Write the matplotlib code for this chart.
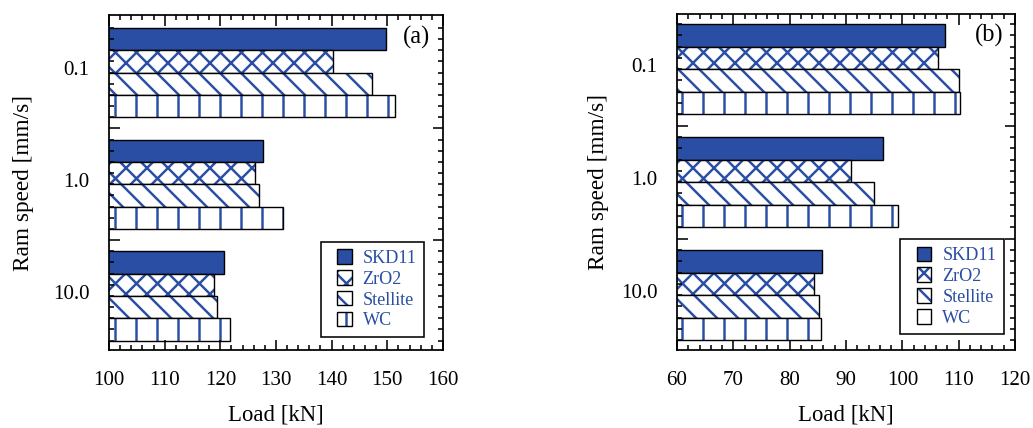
import numpy as np
import matplotlib.pyplot as plt
from matplotlib.patches import Patch, Rectangle
from matplotlib.legend_handler import HandlerPatch
from matplotlib.ticker import MultipleLocator, FixedLocator, NullFormatter

plt.rcParams['font.family'] = ['Liberation Serif', 'DejaVu Serif']
plt.rcParams['hatch.linewidth'] = 1.4

speeds = ["0.1", "1.0", "10.0"]
materials = ["SKD11", "ZrO2", "Stellite", "WC"]

# panel (a)
a_skd11 = [149.7, 127.7, 120.7]
a_zro2 = [140.3, 126.3, 118.9]
a_stellite = [147.3, 126.9, 119.4]
a_wc = [151.3, 131.3, 121.7]

# panel (b)
b_skd11 = [107.5, 96.6, 85.7]
b_zro2 = [106.4, 90.9, 84.4]
b_stellite = [110.0, 95.0, 85.2]
b_wc = [110.3, 99.2, 85.6]

blue = '#2a4ea3'
hatches = [None, 'xx', '\\\\', '|']

DPI = 126
fig = plt.figure(figsize=(1033 / DPI, 428 / DPI), dpi=DPI)


def square_patch(legend, orig_handle, xdescent, ydescent, width, height, fontsize):
    # square box pushed to the right end of the handle area
    return Rectangle((-xdescent + width - height, -ydescent), height, height)


def panel(rect, series, xlim, ylim_top, offset, tag, tagpos, ylab_x, legpos):
    ax = fig.add_axes(rect)
    for i, vals in enumerate(series):
        y = offset + np.arange(len(speeds)) * 5 + i + 0.5
        if i == 0:
            ax.barh(y, vals, height=1.0, color=blue, edgecolor='black', linewidth=0.8)
        else:
            ax.barh(y, vals, height=1.0, color='white', edgecolor=blue,
                    hatch=hatches[i], linewidth=0)
            ax.barh(y, vals, height=1.0, fill=False, edgecolor='black', linewidth=0.8)
    ax.set_xlim(*xlim)
    ax.set_ylim(ylim_top, 0)

    ax.xaxis.set_major_locator(MultipleLocator(10))
    ax.xaxis.set_minor_locator(MultipleLocator(2))
    ax.yaxis.set_major_locator(FixedLocator([offset + 4.5, offset + 9.5]))
    ax.yaxis.set_minor_locator(FixedLocator(offset + np.arange(0, 14.01, 0.5)))
    ax.yaxis.set_major_formatter(NullFormatter())
    ax.tick_params(which='both', direction='in', top=True, right=True, width=0.9)
    ax.tick_params(which='major', length=6)
    ax.tick_params(which='minor', length=3)
    ax.tick_params(axis='x', labelsize=12, pad=12)
    for s in ax.spines.values():
        s.set_linewidth(1.0)

    sec = ax.secondary_yaxis('left')
    sec.set_yticks(offset + np.arange(len(speeds)) * 5 + 1.8, speeds)
    sec.tick_params(length=0, labelsize=12, pad=11)
    sec.spines['left'].set_visible(False)

    ax.set_xlabel("Load [kN]", fontsize=13, labelpad=8)
    ax.set_ylabel("Ram speed [mm/s]", fontsize=13.3)
    ax.yaxis.set_label_coords(ylab_x, 0.5)
    ax.text(tagpos[0], tagpos[1], tag, transform=ax.transAxes, fontsize=14,
            ha='center', va='center')

    handles = [Patch(facecolor=blue, edgecolor='black', linewidth=0.8)]
    for h in hatches[1:]:
        handles.append((Patch(facecolor='white', edgecolor=blue, hatch=h, linewidth=0),
                        Patch(fill=False, edgecolor='black', linewidth=0.8)))
    leg = ax.legend(handles, materials, loc='lower right',
                    bbox_to_anchor=legpos, borderaxespad=0, fontsize=10.4,
                    fancybox=False, edgecolor='black', framealpha=1,
                    handlelength=1.3, handleheight=0.85, handletextpad=0.6,
                    labelspacing=0.18, borderpad=0.4, labelcolor=blue,
                    handler_map={Patch: HandlerPatch(patch_func=square_patch)})
    leg.get_frame().set_linewidth(0.9)
    return ax


panel([0.1055, 0.1822, 0.3233, 0.7827],
      [a_skd11, a_zro2, a_stellite, a_wc], (100, 160), 15.0, 0.58,
      "(a)", (0.92, 0.934), -0.225, (0.943, 0.04))
panel([0.6554, 0.1822, 0.3272, 0.785],
      [b_skd11, b_zro2, b_stellite, b_wc], (60, 120), 14.87, 0.44,
      "(b)", (0.925, 0.9375), -0.201, (0.966, 0.048))

fig.savefig('out.png', dpi=DPI)
